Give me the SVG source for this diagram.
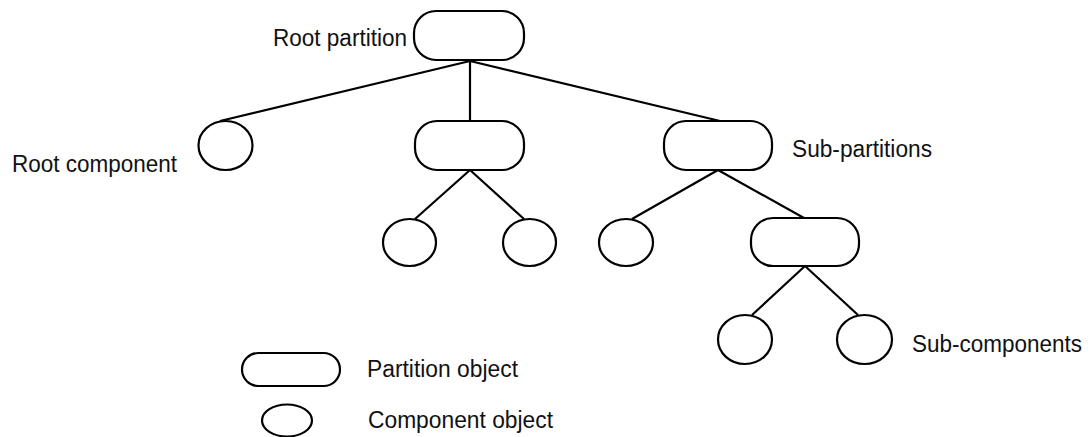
<svg xmlns="http://www.w3.org/2000/svg" width="1090" height="437" viewBox="0 0 1090 437">
<style>
.n{fill:#fff;stroke:#000;stroke-width:2.2}
.c{stroke:#000;stroke-width:2.2;fill:none}
text{font-family:"Liberation Sans",Arial,sans-serif;font-size:23px;fill:#111}
</style>
<rect width="1090" height="437" fill="#fff"/>
<g id="connectors">
<line class="c" x1="470" y1="61" x2="220" y2="121"/>
<line class="c" x1="470" y1="61" x2="470" y2="121"/>
<line class="c" x1="470" y1="61" x2="720" y2="121"/>
<line class="c" x1="470" y1="170" x2="415" y2="219"/>
<line class="c" x1="470" y1="170" x2="524" y2="219"/>
<line class="c" x1="718" y1="170" x2="632" y2="219"/>
<line class="c" x1="718" y1="170" x2="804" y2="218"/>
<line class="c" x1="805" y1="266" x2="752" y2="315"/>
<line class="c" x1="805" y1="266" x2="858" y2="315"/>
</g>
<g id="root-partition"><rect class="n" x="414" y="11" width="110" height="49" rx="22"/><text x="273" y="45.5" textLength="134" lengthAdjust="spacingAndGlyphs">Root partition</text></g>
<g id="root-component"><ellipse class="n" cx="225.5" cy="145.5" rx="27" ry="24.5"/><text x="12" y="172" textLength="165" lengthAdjust="spacingAndGlyphs">Root component</text></g>
<g id="partition-mid"><rect class="n" x="415" y="121" width="109" height="49" rx="22"/></g>
<g id="sub-partition"><rect class="n" x="664" y="121" width="108" height="49" rx="22"/><text x="792" y="157" textLength="140" lengthAdjust="spacingAndGlyphs">Sub-partitions</text></g>
<g id="comp-a"><ellipse class="n" cx="409.5" cy="242.5" rx="26.5" ry="23.5"/></g>
<g id="comp-b"><ellipse class="n" cx="529.5" cy="242.5" rx="26.5" ry="23.5"/></g>
<g id="comp-c"><ellipse class="n" cx="626" cy="242.5" rx="27" ry="23.5"/></g>
<g id="partition-d"><rect class="n" x="751" y="218" width="108" height="48" rx="22"/></g>
<g id="comp-e"><ellipse class="n" cx="745" cy="339.5" rx="27" ry="24.5"/></g>
<g id="comp-f"><ellipse class="n" cx="864.5" cy="339.5" rx="27.5" ry="24.5"/><text x="912" y="352" textLength="170" lengthAdjust="spacingAndGlyphs">Sub-components</text></g>
<g id="legend-partition"><rect class="n" x="242" y="353" width="98" height="33" rx="16.5"/><text x="367" y="377" textLength="151" lengthAdjust="spacingAndGlyphs">Partition object</text></g>
<g id="legend-component"><ellipse class="n" cx="287" cy="420.5" rx="25" ry="16"/><text x="368" y="428" textLength="185" lengthAdjust="spacingAndGlyphs">Component object</text></g>
</svg>
